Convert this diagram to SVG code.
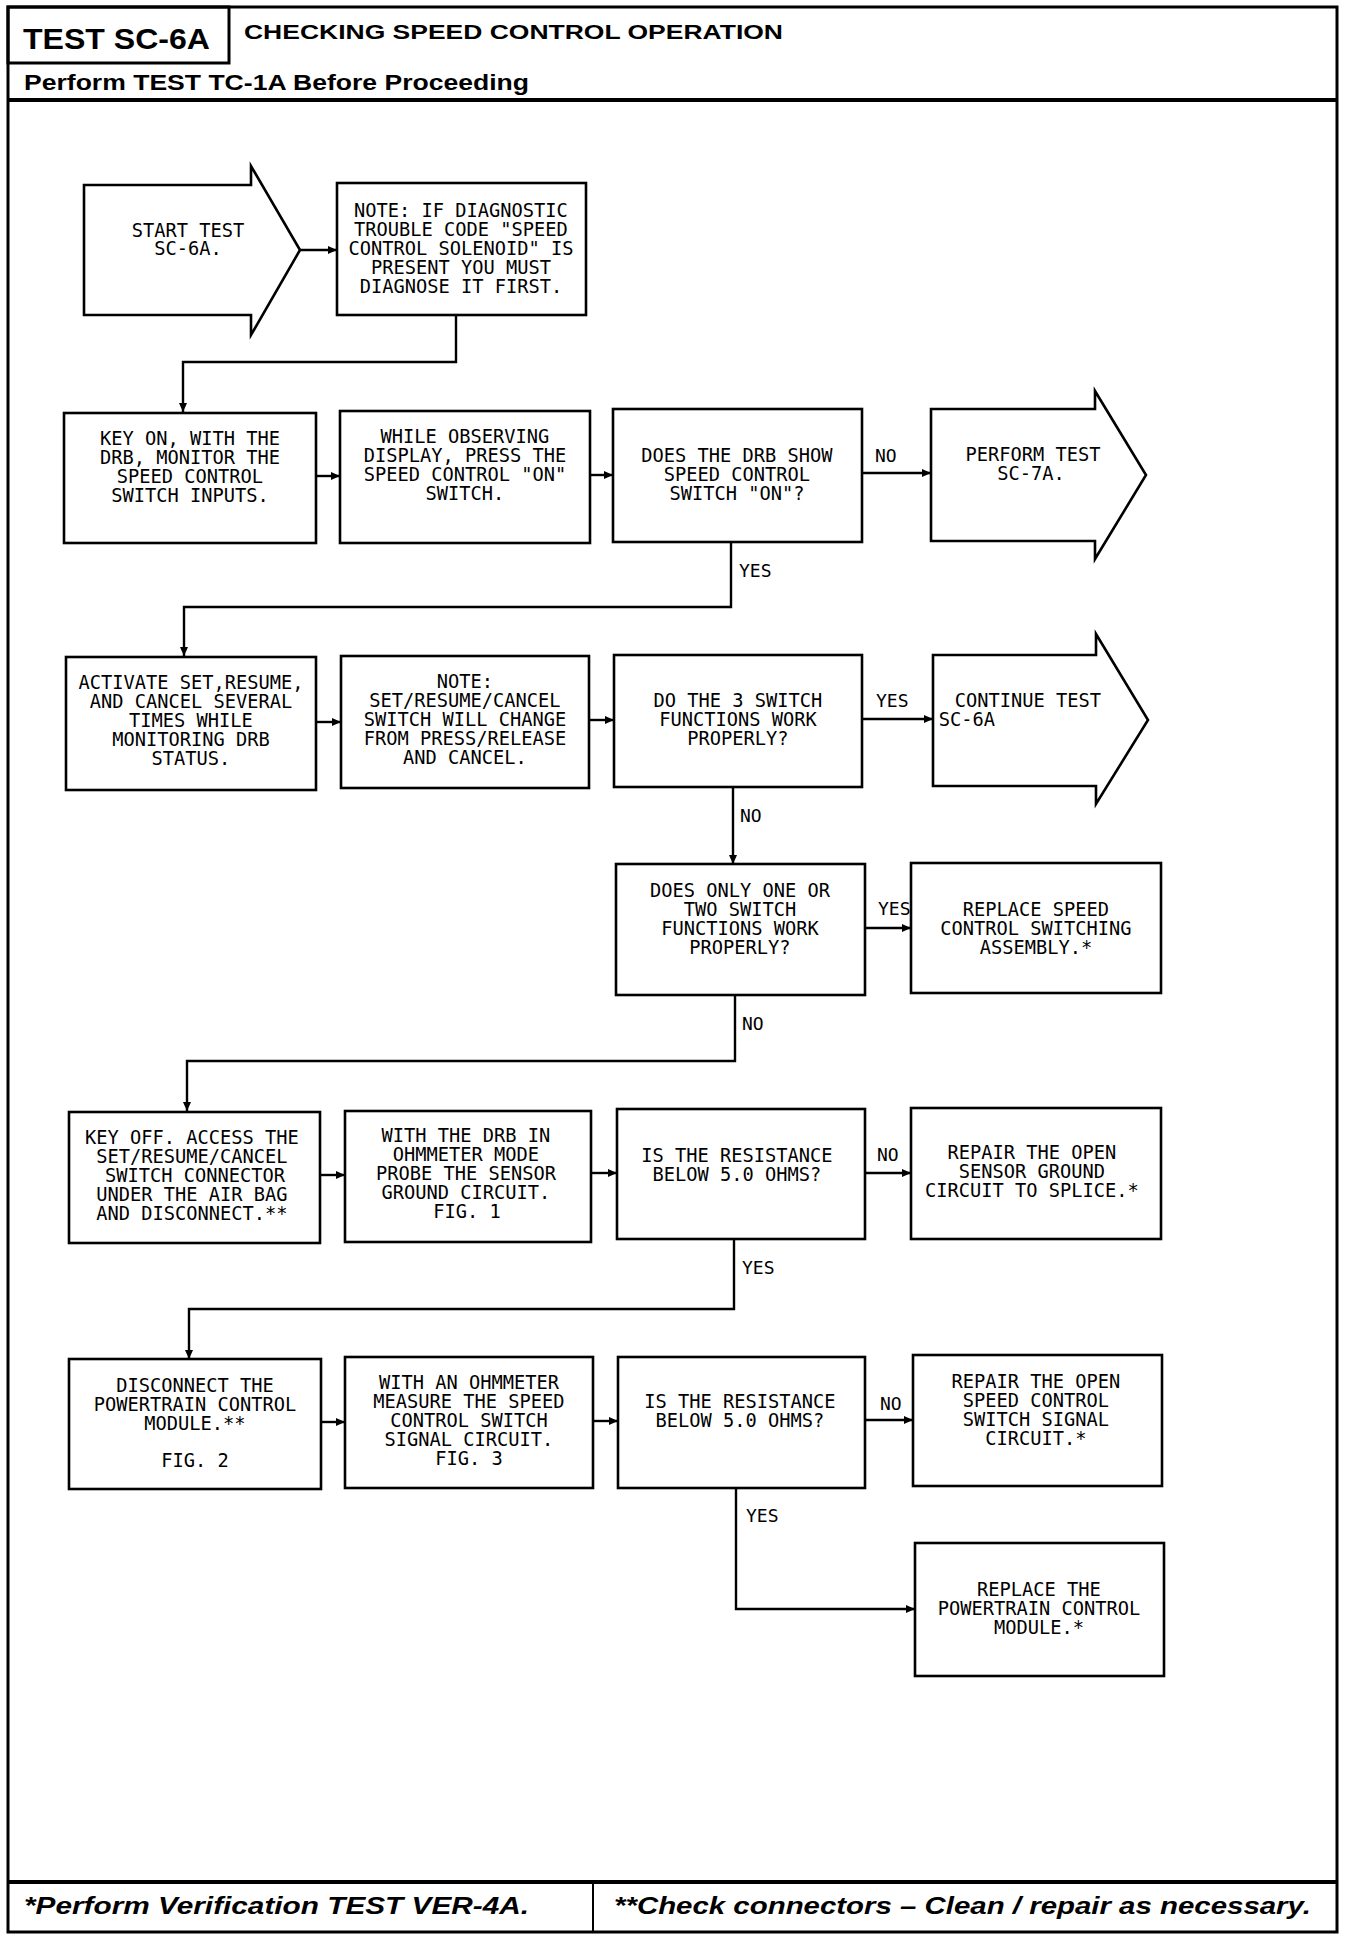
<svg xmlns="http://www.w3.org/2000/svg" width="1360" height="1938" viewBox="0 0 1360 1938">
<defs>
<marker id="ah" markerUnits="userSpaceOnUse" markerWidth="10" markerHeight="8" refX="9" refY="4" orient="auto">
<path d="M0,0 L9,4 L0,8 z" fill="#000"/>
</marker>
<style>
.bx{fill:#fff;stroke:#000;stroke-width:2.6}
.frame{fill:none;stroke:#000;stroke-width:3}
.cn{fill:none;stroke:#000;stroke-width:2.4;marker-end:url(#ah)}
.t{font-family:"DejaVu Sans Mono","Liberation Mono",monospace;font-size:18.7px;fill:#000;text-anchor:middle}
.lb{font-family:"DejaVu Sans Mono","Liberation Mono",monospace;font-size:18px;fill:#000}
.hd{font-family:"Liberation Sans",Arial,sans-serif;font-weight:bold;fill:#000}
.ft{font-family:"Liberation Sans",Arial,sans-serif;font-weight:bold;font-style:italic;fill:#000}
</style>
</defs>
<rect width="1360" height="1938" fill="#fff"/>

<g id="frame">
<rect class="frame" x="8" y="7" width="1329" height="1925"/>
<rect class="frame" x="8" y="7" width="221" height="56"/>
<line x1="8" y1="100" x2="1337" y2="100" stroke="#000" stroke-width="4"/>
<line x1="8" y1="1882" x2="1337" y2="1882" stroke="#000" stroke-width="4"/>
<line x1="593" y1="1882" x2="593" y2="1932" stroke="#000" stroke-width="2"/>
<text class="hd" x="23" y="49" font-size="30" textLength="187" lengthAdjust="spacingAndGlyphs">TEST SC-6A</text>
<text class="hd" x="244" y="39" font-size="21" textLength="539" lengthAdjust="spacingAndGlyphs">CHECKING SPEED CONTROL OPERATION</text>
<text class="hd" x="24" y="90" font-size="22" textLength="505" lengthAdjust="spacingAndGlyphs">Perform TEST TC-1A Before Proceeding</text>
<text class="ft" x="24" y="1914" font-size="23" textLength="505" lengthAdjust="spacingAndGlyphs">*Perform Verification TEST VER-4A.</text>
<text class="ft" x="614" y="1914" font-size="23" textLength="697" lengthAdjust="spacingAndGlyphs">**Check connectors – Clean / repair as necessary.</text>
</g>

<g id="connectors">
<line class="cn" x1="300" y1="250" x2="337" y2="250"/>
<polyline class="cn" points="456,315 456,362 183,362 183,412"/>
<line class="cn" x1="316" y1="476" x2="340" y2="476"/>
<line class="cn" x1="590" y1="475" x2="613" y2="475"/>
<line class="cn" x1="862" y1="473" x2="931" y2="473"/>
<polyline class="cn" points="731,542 731,607 184,607 184,656"/>
<line class="cn" x1="316" y1="722" x2="341" y2="722"/>
<line class="cn" x1="589" y1="720" x2="614" y2="720"/>
<line class="cn" x1="862" y1="719" x2="933" y2="719"/>
<line class="cn" x1="733" y1="787" x2="733" y2="864"/>
<line class="cn" x1="865" y1="928" x2="911" y2="928"/>
<polyline class="cn" points="735,995 735,1061 187,1061 187,1111"/>
<line class="cn" x1="320" y1="1175" x2="345" y2="1175"/>
<line class="cn" x1="591" y1="1173" x2="617" y2="1173"/>
<line class="cn" x1="865" y1="1173" x2="911" y2="1173"/>
<polyline class="cn" points="734,1239 734,1309 189,1309 189,1359"/>
<line class="cn" x1="321" y1="1422" x2="345" y2="1422"/>
<line class="cn" x1="593" y1="1421" x2="618" y2="1421"/>
<line class="cn" x1="865" y1="1420" x2="913" y2="1420"/>
<polyline class="cn" points="736,1488 736,1609 915,1609"/>
<text class="lb" x="875" y="462">NO</text>
<text class="lb" x="739" y="577">YES</text>
<text class="lb" x="876" y="707">YES</text>
<text class="lb" x="740" y="822">NO</text>
<text class="lb" x="878" y="915">YES</text>
<text class="lb" x="742" y="1030">NO</text>
<text class="lb" x="877" y="1161">NO</text>
<text class="lb" x="742" y="1274">YES</text>
<text class="lb" x="880" y="1410">NO</text>
<text class="lb" x="746" y="1522">YES</text>
</g>

<g id="start">
<polygon class="bx" points="84,185 251,185 251,166 300,250 251,335 251,315 84,315"/>
<text class="t" x="188" y="237">START TEST</text>
<text class="t" x="188" y="255">SC-6A.</text>
</g>

<g id="note1">
<rect class="bx" x="337" y="183" width="249" height="132"/>
<text class="t" x="461" y="217">NOTE: IF DIAGNOSTIC</text>
<text class="t" x="461" y="236">TROUBLE CODE "SPEED</text>
<text class="t" x="461" y="255">CONTROL SOLENOID" IS</text>
<text class="t" x="461" y="274">PRESENT YOU MUST</text>
<text class="t" x="461" y="293">DIAGNOSE IT FIRST.</text>
</g>

<g id="keyon">
<rect class="bx" x="64" y="413" width="252" height="130"/>
<text class="t" x="190" y="445">KEY ON, WITH THE</text>
<text class="t" x="190" y="464">DRB, MONITOR THE</text>
<text class="t" x="190" y="483">SPEED CONTROL</text>
<text class="t" x="190" y="502">SWITCH INPUTS.</text>
</g>

<g id="observe">
<rect class="bx" x="340" y="411" width="250" height="132"/>
<text class="t" x="465" y="443">WHILE OBSERVING</text>
<text class="t" x="465" y="462">DISPLAY, PRESS THE</text>
<text class="t" x="465" y="481">SPEED CONTROL "ON"</text>
<text class="t" x="465" y="500">SWITCH.</text>
</g>

<g id="drbshow">
<rect class="bx" x="613" y="409" width="249" height="133"/>
<text class="t" x="737" y="462">DOES THE DRB SHOW</text>
<text class="t" x="737" y="481">SPEED CONTROL</text>
<text class="t" x="737" y="500">SWITCH "ON"?</text>
</g>

<g id="sc7a">
<polygon class="bx" points="931,409 1095,409 1095,391 1146,475 1095,559 1095,541 931,541"/>
<text class="t" x="1033" y="461">PERFORM TEST</text>
<text class="t" x="1031" y="480">SC-7A.</text>
</g>

<g id="activate">
<rect class="bx" x="66" y="657" width="250" height="133"/>
<text class="t" x="191" y="689">ACTIVATE SET,RESUME,</text>
<text class="t" x="191" y="708">AND CANCEL SEVERAL</text>
<text class="t" x="191" y="727">TIMES WHILE</text>
<text class="t" x="191" y="746">MONITORING DRB</text>
<text class="t" x="191" y="765">STATUS.</text>
</g>

<g id="note2">
<rect class="bx" x="341" y="656" width="248" height="132"/>
<text class="t" x="465" y="688">NOTE:</text>
<text class="t" x="465" y="707">SET/RESUME/CANCEL</text>
<text class="t" x="465" y="726">SWITCH WILL CHANGE</text>
<text class="t" x="465" y="745">FROM PRESS/RELEASE</text>
<text class="t" x="465" y="764">AND CANCEL.</text>
</g>

<g id="threeswitch">
<rect class="bx" x="614" y="655" width="248" height="132"/>
<text class="t" x="738" y="707">DO THE 3 SWITCH</text>
<text class="t" x="738" y="726">FUNCTIONS WORK</text>
<text class="t" x="738" y="745">PROPERLY?</text>
</g>

<g id="continue">
<polygon class="bx" points="933,655 1096,655 1096,634 1148,720 1096,804 1096,786 933,786"/>
<text class="t" x="1028" y="707">CONTINUE TEST</text>
<text class="t" x="967" y="726" text-anchor="start">SC-6A</text>
</g>

<g id="oneortwo">
<rect class="bx" x="616" y="864" width="249" height="131"/>
<text class="t" x="740" y="897">DOES ONLY ONE OR</text>
<text class="t" x="740" y="916">TWO SWITCH</text>
<text class="t" x="740" y="935">FUNCTIONS WORK</text>
<text class="t" x="740" y="954">PROPERLY?</text>
</g>

<g id="replaceswitch">
<rect class="bx" x="911" y="863" width="250" height="130"/>
<text class="t" x="1036" y="916">REPLACE SPEED</text>
<text class="t" x="1036" y="935">CONTROL SWITCHING</text>
<text class="t" x="1036" y="954">ASSEMBLY.*</text>
</g>

<g id="keyoff">
<rect class="bx" x="69" y="1112" width="251" height="131"/>
<text class="t" x="192" y="1144">KEY OFF. ACCESS THE</text>
<text class="t" x="192" y="1163">SET/RESUME/CANCEL</text>
<text class="t" x="195" y="1182">SWITCH CONNECTOR</text>
<text class="t" x="192" y="1201">UNDER THE AIR BAG</text>
<text class="t" x="192" y="1220">AND DISCONNECT.**</text>
</g>

<g id="drbohm">
<rect class="bx" x="345" y="1111" width="246" height="131"/>
<text class="t" x="466" y="1142">WITH THE DRB IN</text>
<text class="t" x="466" y="1161">OHMMETER MODE</text>
<text class="t" x="466" y="1180">PROBE THE SENSOR</text>
<text class="t" x="466" y="1199">GROUND CIRCUIT.</text>
<text class="t" x="467" y="1218">FIG. 1</text>
</g>

<g id="resist1">
<rect class="bx" x="617" y="1109" width="248" height="130"/>
<text class="t" x="737" y="1162">IS THE RESISTANCE</text>
<text class="t" x="737" y="1181">BELOW 5.0 OHMS?</text>
</g>

<g id="repairground">
<rect class="bx" x="911" y="1108" width="250" height="131"/>
<text class="t" x="1032" y="1159">REPAIR THE OPEN</text>
<text class="t" x="1032" y="1178">SENSOR GROUND</text>
<text class="t" x="1032" y="1197">CIRCUIT TO SPLICE.*</text>
</g>

<g id="disconnectpcm">
<rect class="bx" x="69" y="1359" width="252" height="130"/>
<text class="t" x="195" y="1392">DISCONNECT THE</text>
<text class="t" x="195" y="1411">POWERTRAIN CONTROL</text>
<text class="t" x="195" y="1430">MODULE.**</text>
<text class="t" x="195" y="1467">FIG. 2</text>
</g>

<g id="ohmmeter">
<rect class="bx" x="345" y="1357" width="248" height="131"/>
<text class="t" x="469" y="1389">WITH AN OHMMETER</text>
<text class="t" x="469" y="1408">MEASURE THE SPEED</text>
<text class="t" x="469" y="1427">CONTROL SWITCH</text>
<text class="t" x="469" y="1446">SIGNAL CIRCUIT.</text>
<text class="t" x="469" y="1465">FIG. 3</text>
</g>

<g id="resist2">
<rect class="bx" x="618" y="1357" width="247" height="131"/>
<text class="t" x="740" y="1408">IS THE RESISTANCE</text>
<text class="t" x="740" y="1427">BELOW 5.0 OHMS?</text>
</g>

<g id="repairsignal">
<rect class="bx" x="913" y="1355" width="249" height="131"/>
<text class="t" x="1036" y="1388">REPAIR THE OPEN</text>
<text class="t" x="1036" y="1407">SPEED CONTROL</text>
<text class="t" x="1036" y="1426">SWITCH SIGNAL</text>
<text class="t" x="1036" y="1445">CIRCUIT.*</text>
</g>

<g id="replacepcm">
<rect class="bx" x="915" y="1543" width="249" height="133"/>
<text class="t" x="1039" y="1596">REPLACE THE</text>
<text class="t" x="1039" y="1615">POWERTRAIN CONTROL</text>
<text class="t" x="1039" y="1634">MODULE.*</text>
</g>
</svg>
